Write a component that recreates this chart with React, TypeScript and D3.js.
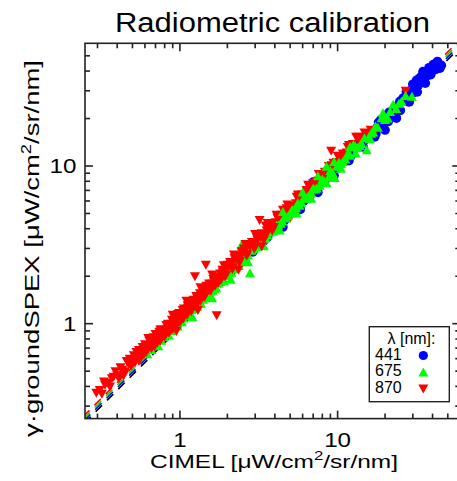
import React from "react";
import * as d3 from "d3";

// CIMEL (x) vs gamma*groundSPEX (y) radiances, per wavelength
const X441 = [2.6, 2.9, 3.1, 3.4, 3.7, 4.0, 4.3, 4.6, 5.0, 5.3, 5.7, 6.1, 6.5, 7.0, 7.4, 7.9, 8.4, 9.0, 9.6, 10.2, 10.9, 11.6, 12.2, 13.0, 13.8, 14.6, 15.4, 16.3, 17.2, 18.2, 19.2, 20.0, 21.2, 22.5, 23.6, 24.8, 26.1, 27.3, 27.9, 29.5, 31.0, 31.7, 33.5, 34.8, 36.5, 38.0, 40.4, 42.0, 44.6, 39.0, 35.5, 30.0,
  3.0, 3.6, 4.1, 4.8, 5.5, 6.3, 7.2, 8.1, 8.8, 9.9, 11.0, 12.6, 14.2, 15.0, 16.8, 17.8, 18.8, 20.5, 21.8, 23.0, 24.2, 25.5, 26.8, 28.5, 30.5, 32.5, 33.0, 35.5, 37.5, 41.0, 43.0, 45.5, 41.5,
  4.5, 5.8, 7.5, 9.5, 11.8, 14.5, 17.5, 21.0, 25.0, 28.5, 32.0, 36.0, 30.0, 34.0, 38.0, 43.0];
const Y441 = [2.7, 2.85, 3.3, 3.35, 3.8, 3.9, 4.5, 4.5, 5.2, 5.2, 5.9, 6.0, 6.8, 7.9, 7.3, 8.2, 8.3, 9.4, 9.5, 10.6, 10.7, 12.0, 11.7, 13.6, 14.6, 14.3, 15.9, 15.8, 15.3, 18.9, 18.6, 16.9, 21.9, 22.7, 20.1, 25.6, 27.0, 29.6, 25.6, 30.5, 31.2, 35.0, 34.0, 39.7, 37.0, 40.5, 43.9, 41.0, 41.7, 38.0, 36.0, 29.0,
  3.1, 3.55, 4.2, 4.75, 5.6, 6.3, 7.1, 8.2, 8.9, 10.1, 11.3, 12.6, 14.0, 15.5, 16.6, 17.5, 19.6, 21.0, 20.9, 23.5, 24.0, 26.2, 26.2, 28.8, 32.0, 32.5, 36.0, 38.5, 38.0, 41.5, 43.0, 43.5, 44.5,
  4.1, 5.3, 6.8, 8.7, 10.8, 13.2, 16.0, 19.2, 22.5, 25.5, 29.5, 33.5, 33.0, 37.0, 42.0, 46.0];

const X675 = [0.62, 0.70, 0.76, 0.82, 0.88, 0.93, 1.00, 1.08, 1.05, 1.12, 1.18, 1.25, 1.32, 1.40, 1.48, 1.56, 1.67, 1.65, 1.75, 1.85, 1.95, 2.05, 2.18, 2.30, 2.46, 2.42, 2.55, 2.78, 2.70, 2.85, 3.00, 3.20, 3.40, 3.60, 3.80, 4.00, 4.20, 4.45, 4.70, 5.00, 5.30, 5.60, 5.90, 6.30, 6.80, 7.20, 7.50, 7.70, 8.20, 8.50, 8.80, 9.30, 9.60, 9.90, 10.5, 11.2, 12.0, 12.6, 13.4, 14.2, 15.3, 15.8, 16.8, 18.0, 19.0, 19.4, 20.8, 22.5, 25.4, 29.6,
  0.66, 0.73, 0.79, 0.85, 0.91, 0.97, 1.03, 1.10, 1.16, 1.22, 1.29, 1.36, 1.44, 1.52, 1.61, 1.70, 1.80, 1.90, 2.00, 2.12, 2.24, 2.36, 2.50, 2.62, 2.93, 3.10, 3.30, 3.50, 3.70, 3.90, 4.10, 4.35, 4.60, 4.85, 5.15, 5.45, 5.75, 6.10, 6.50, 7.00, 7.40, 8.00, 9.0, 10.2, 10.8, 11.6, 13.0, 13.8, 14.8, 16.3, 17.4, 20.0, 21.5, 23.5, 24.5, 27.0,
  1.2, 1.6, 2.1, 2.7, 3.4, 4.3, 5.5, 6.8, 8.5, 10.5, 13.0, 16.0, 2.0, 3.0, 4.5, 6.0, 9.5, 12.0];
const Y675 = [0.64, 0.75, 0.78, 0.86, 0.90, 0.98, 1.04, 1.31, 1.08, 1.15, 1.22, 1.27, 1.38, 1.42, 1.53, 1.60, 1.89, 1.66, 1.80, 1.88, 2.00, 2.10, 2.22, 2.36, 3.15, 2.46, 2.60, 2.09, 2.72, 2.90, 3.05, 3.22, 3.42, 3.62, 3.85, 4.00, 4.20, 4.45, 4.65, 5.00, 5.20, 5.80, 5.85, 6.20, 6.70, 7.10, 8.60, 7.50, 8.00, 9.90, 8.50, 9.00, 8.40, 9.90, 10.3, 11.0, 11.6, 13.6, 13.0, 13.8, 12.6, 15.2, 16.3, 17.5, 20.1, 21.6, 20.0, 24.5, 25.6, 27.5,
  0.68, 0.72, 0.82, 0.84, 0.94, 0.96, 1.02, 1.12, 1.14, 1.24, 1.28, 1.34, 1.46, 1.50, 1.62, 1.68, 1.84, 1.86, 2.04, 2.10, 2.30, 2.32, 2.52, 2.58, 2.98, 3.08, 3.36, 3.48, 3.78, 3.86, 4.18, 4.30, 4.70, 4.80, 5.25, 5.40, 5.60, 6.25, 6.40, 7.20, 7.20, 8.20, 9.3, 10.5, 10.6, 11.9, 13.3, 13.4, 15.0, 16.0, 17.8, 19.6, 22.0, 23.0, 24.8, 27.8,
  1.1, 1.45, 1.9, 2.45, 3.1, 3.9, 5.0, 6.2, 7.8, 9.6, 12.0, 14.8, 2.3, 3.4, 5.1, 6.8, 10.6, 13.2];

const X870 = [0.295, 0.31, 0.32, 0.335, 0.35, 0.36, 0.38, 0.40, 0.41, 0.43, 0.45, 0.47, 0.49, 0.50, 0.52, 0.54, 0.56, 0.57, 0.59, 0.61, 0.63, 0.63, 0.65, 0.67, 0.69, 0.71, 0.73, 0.75, 0.76, 0.78, 0.80, 0.81, 0.83, 0.85, 0.86, 0.88, 0.90, 0.91, 0.93, 0.95, 0.96, 0.98, 1.00, 1.01, 1.03, 1.05, 1.07, 1.09, 1.11, 1.13, 1.16, 1.18, 1.21, 1.24, 1.245, 1.26, 1.29, 1.32, 1.35, 1.38, 1.41, 1.44, 1.46, 1.48, 1.52, 1.56, 1.60, 1.64, 1.67, 1.71, 1.72, 1.77, 1.82, 1.87, 1.92, 1.97, 2.03, 2.10, 2.17, 2.24, 2.32, 2.40, 2.48, 2.57, 2.67, 2.77, 2.88, 2.98, 3.10, 3.20, 3.25, 3.40, 3.55, 3.60, 3.70, 3.85, 4.05, 4.25, 4.45, 4.50, 4.65, 4.90, 5.15, 5.45, 5.50, 5.75, 6.05, 6.35, 6.40, 6.75, 7.15, 7.36, 7.60, 8.05, 8.55, 9.10, 9.15, 9.20, 9.70, 10.3, 10.6, 11.2, 11.6, 12.2, 13.1, 13.5, 14.2, 15.6, 17.3, 27.0,
  0.33, 0.37, 0.39, 0.42, 0.44, 0.46, 0.48, 0.51, 0.53, 0.55, 0.58, 0.60, 0.62, 0.64, 0.66, 0.68, 0.70, 0.72, 0.74, 0.77, 0.79, 0.82, 0.84, 0.87, 0.89, 0.92, 0.94, 0.97, 0.99, 1.02, 1.04, 1.06, 1.10, 1.12, 1.15, 1.19, 1.22, 1.27, 1.30, 1.34, 1.39, 1.43, 1.47, 1.53, 1.58, 1.63, 1.69, 1.75, 1.80, 1.86, 1.93, 2.00, 2.08, 2.15, 2.22, 2.30, 2.38, 2.46, 2.55, 2.65, 2.75, 2.86, 2.96, 3.08, 3.30, 3.50, 3.75, 3.95, 4.15, 4.40, 4.75, 5.05, 5.30, 5.65, 5.95, 6.25, 6.60, 7.00, 7.40, 7.85, 8.30, 8.80, 9.40, 9.90, 10.8, 11.4, 12.5, 13.8, 14.8, 16.2,
  0.55, 0.75, 0.90, 1.10, 1.35, 1.60, 1.90, 2.20, 2.60, 3.00, 3.50, 4.10, 4.80, 5.60, 6.50, 7.60, 8.80, 10.0, 11.8, 2.35, 3.30, 5.00, 7.00, 1.30, 0.95];
const Y870 = [0.365, 0.38, 0.36, 0.41, 0.42, 0.40, 0.46, 0.47, 0.45, 0.51, 0.50, 0.56, 0.54, 0.58, 0.57, 0.62, 0.61, 0.67, 0.64, 0.66, 0.81, 0.70, 0.72, 0.76, 0.72, 0.79, 0.80, 0.78, 0.85, 0.86, 0.83, 0.91, 0.93, 0.88, 0.96, 0.98, 0.93, 1.02, 1.05, 0.97, 1.08, 1.10, 1.03, 1.12, 1.16, 1.08, 1.20, 1.22, 1.14, 1.26, 1.30, 1.20, 1.35, 1.38, 2.00, 1.30, 1.45, 1.48, 1.40, 1.55, 1.60, 1.50, 2.36, 1.68, 1.72, 1.62, 1.80, 1.86, 1.74, 1.13, 1.95, 2.00, 1.90, 2.12, 2.18, 2.05, 2.30, 2.40, 2.28, 2.55, 2.62, 2.50, 2.80, 2.90, 2.78, 3.10, 3.20, 3.05, 3.40, 4.54, 3.55, 3.40, 3.90, 4.35, 4.00, 3.90, 4.40, 4.55, 4.50, 5.27, 5.00, 5.20, 5.20, 5.80, 6.38, 6.10, 6.10, 7.05, 6.80, 7.10, 7.20, 7.95, 8.10, 8.40, 8.60, 12.5, 10.1, 9.60, 10.0, 11.4, 10.8, 11.5, 13.2, 12.8, 15.3, 15.3, 15.0, 16.0, 16.5, 30.0,
  0.43, 0.45, 0.50, 0.53, 0.47, 0.58, 0.60, 0.63, 0.66, 0.58, 0.71, 0.74, 0.68, 0.78, 0.70, 0.82, 0.86, 0.76, 0.89, 0.92, 0.84, 0.98, 1.00, 0.91, 1.06, 1.10, 1.00, 1.15, 1.17, 1.06, 1.22, 1.25, 1.16, 1.31, 1.36, 1.25, 1.42, 1.50, 1.36, 1.56, 1.62, 1.48, 1.74, 1.80, 1.65, 1.92, 1.98, 1.82, 2.08, 2.20, 2.00, 2.36, 2.46, 2.22, 2.62, 2.70, 2.44, 2.88, 3.00, 2.70, 3.20, 3.30, 3.00, 3.52, 3.75, 3.62, 4.25, 4.10, 4.70, 4.90, 5.40, 5.60, 5.45, 6.30, 6.60, 6.40, 7.40, 7.80, 7.60, 8.70, 9.20, 9.00, 10.5, 10.6, 12.0, 12.2, 13.8, 14.2, 16.3, 17.0,
  0.68, 0.92, 1.14, 1.40, 1.70, 2.05, 2.35, 2.75, 3.20, 3.70, 4.20, 4.90, 5.70, 6.60, 7.60, 8.90, 10.0, 11.6, 13.6, 2.20, 3.10, 4.70, 6.60, 1.22, 0.90];

const WAVELENGTHS = ["441", "675", "870"];
const COLORS = ["#0000ff", "#00ff00", "#ff0000"];
const DOMAIN = [0.25, 60];
const MAJOR_TICKS = [1, 10];
const MINOR_TICKS = [0.3, 0.4, 0.5, 0.6, 0.7, 0.8, 0.9, 2, 3, 4, 5, 6, 7, 8, 9, 20, 30, 40, 50];

const W = 457, H = 481;
const L = 85, R = 460.3, T = 43.3, B = 418.6;
const FONT = "'Liberation Sans', Arial, Helvetica, sans-serif";

const upTri = "M0,-5L5,4L-5,4Z";
const downTri = "M0,5L5,-4L-5,-4Z";

export default function App() {
  const x = d3.scaleLog().domain(DOMAIN).range([L, R]);
  const y = d3.scaleLog().domain(DOMAIN).range([B, T]);
  const axisColor = "#222";
  const majLen = 8, minLen = 5;

  const ticks: any[] = [];
  const addTicks = (vals: number[], len: number, key: string) => {
    vals.forEach((v, i) => {
      const px = x(v), py = y(v);
      ticks.push(<line key={`${key}b${i}`} x1={px} x2={px} y1={B} y2={B - len} />);
      ticks.push(<line key={`${key}t${i}`} x1={px} x2={px} y1={T} y2={T + len} />);
      ticks.push(<line key={`${key}l${i}`} x1={L} x2={L + len} y1={py} y2={py} />);
      ticks.push(<line key={`${key}r${i}`} x1={R} x2={R - len} y1={py} y2={py} />);
    });
  };
  addTicks(MAJOR_TICKS, majLen, "M");
  addTicks(MINOR_TICKS, minLen, "m");

  // hatched 1:1 line: several offset dashed lines
  const stripes = [
    { c: "#ff0000", o: -2.7 },
    { c: "#00dd00", o: -0.9 },
    { c: "#0000ff", o: 0.9 },
    { c: "#000000", o: 2.7 },
  ];
  const x0 = x(DOMAIN[0]), y0 = y(DOMAIN[0]), x1 = x(DOMAIN[1]), y1 = y(DOMAIN[1]);

  const pts = (xs: number[], ys: number[]) => xs.map((v, i) => [x(v), y(ys[i]), v]);
  const red = pts(X870, Y870);
  const redHigh = red.filter((p) => p[2] > 4);
  const redLow = red.filter((p) => p[2] <= 4);

  return (
    <svg width={W} height={H} style={{ position: "absolute", left: 0, top: 0, background: "#fff" }} fontFamily={FONT}>
      <defs>
        <clipPath id="plotclip">
          <rect x={L} y={T} width={R - L} height={B - T} />
        </clipPath>
      </defs>
      <rect x={0} y={0} width={W} height={H} fill="#fff" />
      <g clipPath="url(#plotclip)">
        {stripes.map((s, i) => (
          <line
            key={i}
            x1={x0 + s.o / Math.SQRT2}
            y1={y0 + s.o / Math.SQRT2}
            x2={x1 + s.o / Math.SQRT2}
            y2={y1 + s.o / Math.SQRT2}
            stroke={s.c}
            strokeWidth={1.6}
            strokeDasharray="9 7"
            strokeDashoffset={i * 1.2}
          />
        ))}
        {pts(X441, Y441).map((p, i) => (
          <circle key={`b${i}`} cx={p[0]} cy={p[1]} r={4.8} fill={COLORS[0]} />
        ))}
        {redHigh.map((p, i) => (
          <path key={`rh${i}`} d={downTri} transform={`translate(${p[0]},${p[1]})`} fill={COLORS[2]} />
        ))}
        {pts(X675, Y675).map((p, i) => (
          <path key={`g${i}`} d={upTri} transform={`translate(${p[0]},${p[1]})`} fill={COLORS[1]} />
        ))}
        {redLow.map((p, i) => (
          <path key={`rl${i}`} d={downTri} transform={`translate(${p[0]},${p[1]})`} fill={COLORS[2]} />
        ))}
      </g>
      <g stroke={axisColor} strokeWidth={1.6} fill="none">
        <rect x={L} y={T} width={R - L} height={B - T} />
        {ticks}
      </g>
      {/* tick labels */}
      <g fontSize={19.5} fill="#000">
        {MAJOR_TICKS.map((v) => (
          <g key={`xl${v}`} transform={`translate(${x(v)},446.8) scale(1.24,1)`}>
            <text textAnchor="middle">{v}</text>
          </g>
        ))}
        {MAJOR_TICKS.map((v) => (
          <g key={`yl${v}`} transform={`translate(76.5,${y(v) + 7}) scale(1.24,1)`}>
            <text textAnchor="end">{v}</text>
          </g>
        ))}
      </g>
      {/* title */}
      <text x={272.5} y={32} fontSize={27} textAnchor="middle" textLength={315} lengthAdjust="spacingAndGlyphs">
        Radiometric calibration
      </text>
      {/* x label */}
      <text x={274} y={467.5} fontSize={19} textAnchor="middle" textLength={248} lengthAdjust="spacingAndGlyphs">
        CIMEL [μW/cm<tspan dy={-8} fontSize={13}>2</tspan><tspan dy={8}>/sr/nm]</tspan>
      </text>
      {/* y label */}
      <text transform="translate(39.3,248.5) rotate(-90)" fontSize={21} textAnchor="middle" textLength={377} lengthAdjust="spacingAndGlyphs">
        γ·groundSPEX [μW/cm<tspan dy={-8.5} fontSize={14}>2</tspan><tspan dy={8.5}>/sr/nm]</tspan>
      </text>
      {/* legend */}
      <g>
        <rect x={369.3} y={326.7} width={80} height={75} fill="#fff" stroke="#222" strokeWidth={1.4} />
        <text x={411.5} y={344} fontSize={16} textAnchor="middle">λ [nm]:</text>
        {WAVELENGTHS.map((w, i) => (
          <text key={w} x={375} y={360 + i * 16.4} fontSize={16}>{w}</text>
        ))}
        <circle cx={423.3} cy={355.5} r={4.6} fill={COLORS[0]} />
        <path d={upTri} transform="translate(423.3,372.5)" fill={COLORS[1]} />
        <path d={downTri} transform="translate(423.3,388.5)" fill={COLORS[2]} />
      </g>
    </svg>
  );
}
